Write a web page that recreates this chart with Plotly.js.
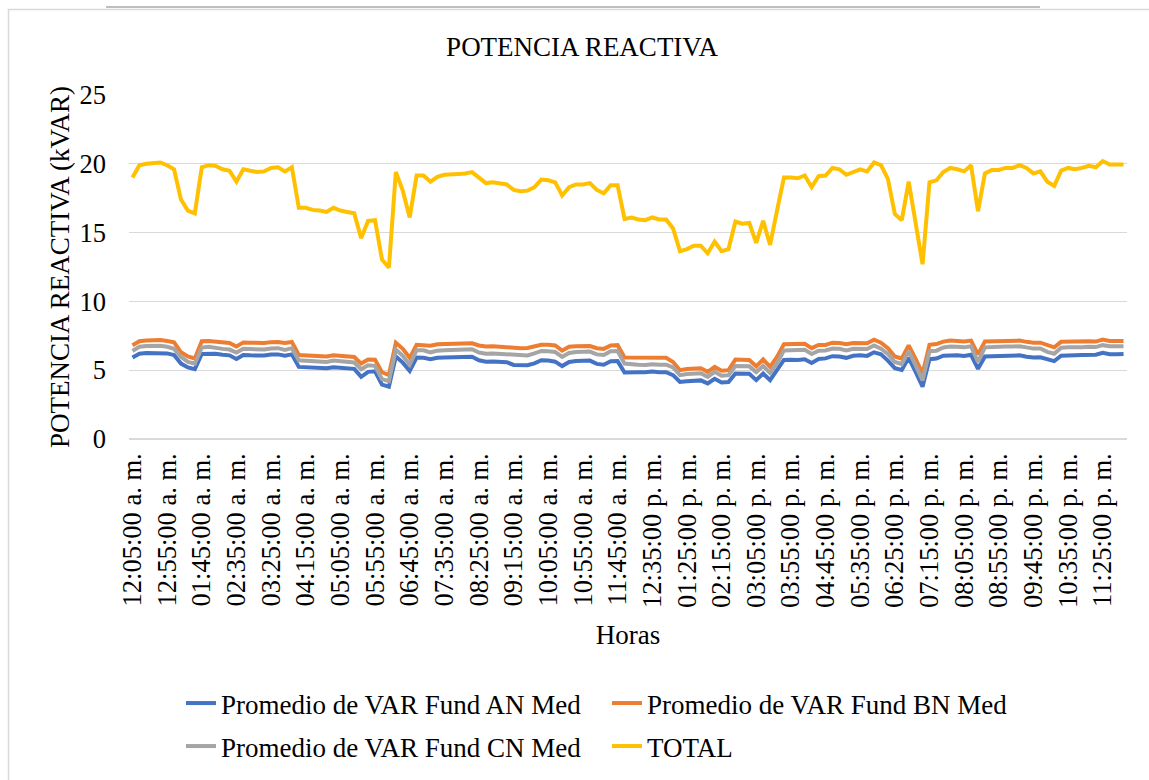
<!DOCTYPE html>
<html>
<head>
<meta charset="utf-8">
<script src="https://cdn.plot.ly/plotly-3.0.1.min.js"></script>
<style>
  html, body { margin: 0; padding: 0; background: #fff; }
  #chart { width: 1149px; height: 780px; }
</style>
</head>
<body>
<div id="chart"></div>
<script>
// ---- Categories (10-minute readings) ----
const horas = [
  "12:05:00 a. m.","12:15:00 a. m.","12:25:00 a. m.","12:35:00 a. m.","12:45:00 a. m.","12:55:00 a. m.",
  "01:05:00 a. m.","01:15:00 a. m.","01:25:00 a. m.","01:35:00 a. m.","01:45:00 a. m.","01:55:00 a. m.",
  "02:05:00 a. m.","02:15:00 a. m.","02:25:00 a. m.","02:35:00 a. m.","02:45:00 a. m.","02:55:00 a. m.",
  "03:05:00 a. m.","03:15:00 a. m.","03:25:00 a. m.","03:35:00 a. m.","03:45:00 a. m.","03:55:00 a. m.",
  "04:05:00 a. m.","04:15:00 a. m.","04:25:00 a. m.","04:35:00 a. m.","04:45:00 a. m.","04:55:00 a. m.",
  "05:05:00 a. m.","05:15:00 a. m.","05:25:00 a. m.","05:35:00 a. m.","05:45:00 a. m.","05:55:00 a. m.",
  "06:05:00 a. m.","06:15:00 a. m.","06:25:00 a. m.","06:35:00 a. m.","06:45:00 a. m.","06:55:00 a. m.",
  "07:05:00 a. m.","07:15:00 a. m.","07:25:00 a. m.","07:35:00 a. m.","07:45:00 a. m.","07:55:00 a. m.",
  "08:05:00 a. m.","08:15:00 a. m.","08:25:00 a. m.","08:35:00 a. m.","08:45:00 a. m.","08:55:00 a. m.",
  "09:05:00 a. m.","09:15:00 a. m.","09:25:00 a. m.","09:35:00 a. m.","09:45:00 a. m.","09:55:00 a. m.",
  "10:05:00 a. m.","10:15:00 a. m.","10:25:00 a. m.","10:35:00 a. m.","10:45:00 a. m.","10:55:00 a. m.",
  "11:05:00 a. m.","11:15:00 a. m.","11:25:00 a. m.","11:35:00 a. m.","11:45:00 a. m.","11:55:00 a. m.",
  "12:05:00 p. m.","12:15:00 p. m.","12:25:00 p. m.","12:35:00 p. m.","12:45:00 p. m.","12:55:00 p. m.",
  "01:05:00 p. m.","01:15:00 p. m.","01:25:00 p. m.","01:35:00 p. m.","01:45:00 p. m.","01:55:00 p. m.",
  "02:05:00 p. m.","02:15:00 p. m.","02:25:00 p. m.","02:35:00 p. m.","02:45:00 p. m.","02:55:00 p. m.",
  "03:05:00 p. m.","03:15:00 p. m.","03:25:00 p. m.","03:35:00 p. m.","03:45:00 p. m.","03:55:00 p. m.",
  "04:05:00 p. m.","04:15:00 p. m.","04:25:00 p. m.","04:35:00 p. m.","04:45:00 p. m.","04:55:00 p. m.",
  "05:05:00 p. m.","05:15:00 p. m.","05:25:00 p. m.","05:35:00 p. m.","05:45:00 p. m.","05:55:00 p. m.",
  "06:05:00 p. m.","06:15:00 p. m.","06:25:00 p. m.","06:35:00 p. m.","06:45:00 p. m.","06:55:00 p. m.",
  "07:05:00 p. m.","07:15:00 p. m.","07:25:00 p. m.","07:35:00 p. m.","07:45:00 p. m.","07:55:00 p. m.",
  "08:05:00 p. m.","08:15:00 p. m.","08:25:00 p. m.","08:35:00 p. m.","08:45:00 p. m.","08:55:00 p. m.",
  "09:05:00 p. m.","09:15:00 p. m.","09:25:00 p. m.","09:35:00 p. m.","09:45:00 p. m.","09:55:00 p. m.",
  "10:05:00 p. m.","10:15:00 p. m.","10:25:00 p. m.","10:35:00 p. m.","10:45:00 p. m.","10:55:00 p. m.",
  "11:05:00 p. m.","11:15:00 p. m.","11:25:00 p. m.","11:35:00 p. m.","11:45:00 p. m.","11:55:00 p. m."
];

// ---- Tick labels shown on the category axis ----
const etiquetas = [
  "12:05:00 a. m.","12:55:00 a. m.","01:45:00 a. m.","02:35:00 a. m.","03:25:00 a. m.","04:15:00 a. m.",
  "05:05:00 a. m.","05:55:00 a. m.","06:45:00 a. m.","07:35:00 a. m.","08:25:00 a. m.","09:15:00 a. m.",
  "10:05:00 a. m.","10:55:00 a. m.","11:45:00 a. m.","12:35:00 p. m.","01:25:00 p. m.","02:15:00 p. m.",
  "03:05:00 p. m.","03:55:00 p. m.","04:45:00 p. m.","05:35:00 p. m.","06:25:00 p. m.","07:15:00 p. m.",
  "08:05:00 p. m.","08:55:00 p. m.","09:45:00 p. m.","10:35:00 p. m.","11:25:00 p. m."
];

// ---- Series values (kVAR) ----
const varAN = [
  5.92,6.20,6.25,6.25,6.28,6.22,6.10,5.48,5.20,5.08,6.18,6.22,6.20,6.12,6.08,5.82,6.10,6.08,6.05,6.07,
  6.14,6.15,6.06,6.15,5.24,5.22,5.18,5.17,5.15,5.22,5.17,5.14,5.10,4.52,4.88,4.92,3.95,3.80,6.00,5.55,
  4.95,5.92,5.90,5.80,5.90,5.92,5.93,5.94,5.95,5.98,5.72,5.62,5.64,5.60,5.58,5.38,5.35,5.36,5.50,5.72,
  5.70,5.62,5.30,5.60,5.66,5.66,5.70,5.46,5.40,5.65,5.66,4.83,4.88,4.86,4.85,4.90,4.86,4.86,4.64,4.15,
  4.20,4.26,4.26,4.04,4.38,4.10,4.14,4.76,4.74,4.74,4.28,4.76,4.27,5.00,5.75,5.76,5.74,5.80,5.53,5.82,
  5.86,6.02,6.00,5.90,6.05,6.08,6.04,6.30,6.15,5.70,5.15,5.02,5.90,4.88,3.80,5.80,5.85,6.05,6.10,6.08,
  6.04,6.12,5.10,6.00,6.02,6.02,6.04,6.04,6.08,5.98,5.92,5.94,5.77,5.66,6.05,6.10,6.08,6.10,6.14,6.12,
  6.26,6.16,6.16,6.17
];
const varBN = [
  6.82,7.10,7.15,7.18,7.20,7.12,7.02,6.30,6.00,5.85,7.10,7.12,7.08,7.00,6.98,6.72,7.02,7.00,6.95,6.97,
  7.04,7.05,6.97,7.05,6.10,6.08,6.05,6.02,6.00,6.08,6.02,5.99,5.96,5.48,5.77,5.76,4.85,4.65,7.00,6.55,
  5.90,6.85,6.85,6.78,6.88,6.90,6.90,6.92,6.93,6.96,6.80,6.72,6.74,6.70,6.70,6.62,6.60,6.62,6.72,6.85,
  6.85,6.80,6.42,6.70,6.74,6.74,6.76,6.60,6.55,6.80,6.82,5.92,5.92,5.90,5.88,5.95,5.90,5.90,5.60,5.00,
  5.08,5.14,5.14,4.88,5.24,4.96,5.00,5.77,5.72,5.74,5.28,5.78,5.24,5.97,6.88,6.88,6.87,6.92,6.60,6.84,
  6.84,7.00,6.97,6.88,6.98,7.00,6.96,7.22,7.00,6.60,6.00,5.85,6.80,5.82,4.75,6.85,6.90,7.08,7.15,7.12,
  7.08,7.15,6.15,7.08,7.10,7.10,7.12,7.12,7.15,7.06,6.99,7.00,6.82,6.66,7.06,7.08,7.05,7.07,7.10,7.08,
  7.22,7.13,7.13,7.12
];
const varCN = [
  6.40,6.70,6.75,6.75,6.78,6.70,6.55,5.97,5.60,5.48,6.65,6.70,6.66,6.55,6.50,6.28,6.56,6.52,6.48,6.50,
  6.58,6.60,6.48,6.60,5.72,5.70,5.66,5.64,5.60,5.70,5.63,5.60,5.56,5.07,5.36,5.32,4.35,4.20,6.50,6.05,
  5.40,6.45,6.45,6.30,6.42,6.45,6.46,6.47,6.50,6.52,6.28,6.20,6.22,6.18,6.17,6.08,6.05,6.07,6.22,6.40,
  6.38,6.32,5.97,6.25,6.32,6.32,6.35,6.15,6.10,6.38,6.40,5.48,5.42,5.40,5.38,5.44,5.40,5.40,5.20,4.64,
  4.72,4.78,4.78,4.52,4.88,4.60,4.64,5.30,5.26,5.28,4.86,5.30,4.80,5.50,6.44,6.45,6.44,6.48,6.18,6.42,
  6.43,6.58,6.56,6.44,6.56,6.58,6.54,6.80,6.56,6.18,5.60,5.45,6.38,5.35,4.25,6.38,6.42,6.65,6.72,6.70,
  6.66,6.74,5.60,6.66,6.70,6.70,6.72,6.72,6.74,6.66,6.57,6.58,6.33,6.20,6.64,6.66,6.64,6.66,6.70,6.68,
  6.82,6.74,6.74,6.74
];
const total = [
  19.00,19.90,20.00,20.05,20.10,19.90,19.60,17.40,16.60,16.40,19.75,19.90,19.85,19.60,19.50,18.70,19.60,19.50,19.40,19.45,
  19.70,19.75,19.45,19.75,16.80,16.80,16.65,16.60,16.50,16.80,16.60,16.50,16.40,14.60,15.85,15.90,13.05,12.45,19.40,18.05,
  16.10,19.15,19.15,18.70,19.05,19.20,19.20,19.25,19.30,19.40,19.00,18.60,18.65,18.55,18.50,18.10,18.00,18.05,18.30,18.85,
  18.80,18.65,17.70,18.30,18.50,18.50,18.60,18.10,17.85,18.45,18.45,16.00,16.10,15.95,15.90,16.10,15.95,15.95,15.30,13.65,
  13.80,14.05,14.05,13.50,14.35,13.65,13.80,15.80,15.65,15.70,14.25,15.85,14.10,16.60,19.00,19.00,18.95,19.15,18.30,19.10,
  19.15,19.70,19.60,19.20,19.40,19.60,19.45,20.10,19.90,18.90,16.35,15.90,18.70,15.80,12.70,18.65,18.80,19.40,19.70,19.60,
  19.45,19.90,16.55,19.30,19.55,19.55,19.70,19.70,19.90,19.70,19.30,19.45,18.70,18.40,19.50,19.70,19.60,19.70,19.85,19.75,
  20.20,19.95,19.95,19.95
];

const seriesNames = [
  "Promedio de VAR Fund AN Med",
  "Promedio de VAR Fund BN Med",
  "Promedio de VAR Fund CN Med",
  "TOTAL"
];
const seriesColors = ["#4472C4", "#ED7D31", "#A5A5A5", "#FFC000"];
const seriesData = [varAN, varBN, varCN, total];
const seriesLegend = ["legend", "legend", "legend2", "legend2"];

const FONT = "Liberation Serif";

const traces = seriesData.map((ys, k) => ({
  type: "scatter",
  mode: "lines",
  x: horas,
  y: ys,
  name: seriesNames[k],
  legend: seriesLegend[k],
  line: { color: seriesColors[k], width: 4, shape: "linear" },
  hoverinfo: "x+y+name"
}));

// pixel -> paper helpers for decoration shapes
const L = 129, R = 22, T = 95, B = 341, W = 1149, H = 780;
const pw = W - L - R, ph = H - T - B;
const px = v => (v - L) / pw;
const py = v => (H - B - v) / ph;

const legendBase = {
  orientation: "h",
  xref: "paper", yref: "container",
  x: px(181),
  xanchor: "left", yanchor: "top",
  entrywidth: 381,
  entrywidthmode: "pixels",
  traceorder: "normal",
  font: { family: FONT, size: 27, color: "#000000" },
  bgcolor: "rgba(0,0,0,0)",
  borderwidth: 0
};

const layout = {
  width: W,
  height: H,
  margin: { l: L, r: R, t: T, b: B, pad: 0 },
  paper_bgcolor: "#ffffff",
  plot_bgcolor: "#ffffff",
  font: { family: FONT, color: "#000000", size: 26.5 },
  showlegend: true,
  title: {
    text: "POTENCIA REACTIVA",
    font: { family: FONT, size: 27, color: "#000000" },
    xref: "container", yref: "container",
    x: 582 / W, y: 1 - 47 / H,
    xanchor: "center", yanchor: "middle"
  },
  xaxis: {
    type: "category",
    categoryorder: "array",
    categoryarray: horas,
    range: [-0.5, horas.length - 0.5],
    tickmode: "array",
    tickvals: etiquetas,
    ticktext: etiquetas,
    tickangle: -90,
    tickfont: { family: FONT, size: 26.5, color: "#000000" },
    ticks: "",
    ticklabelstandoff: 8,
    showgrid: false,
    zeroline: false,
    showline: false,
    automargin: false,
    fixedrange: true,
    title: { text: "Horas", font: { family: FONT, size: 27, color: "#000000" }, standoff: 18 }
  },
  yaxis: {
    range: [0, 25],
    tickmode: "linear",
    tick0: 0,
    dtick: 5,
    tickfont: { family: FONT, size: 26.5, color: "#000000" },
    ticks: "",
    ticklabelstandoff: 22,
    showgrid: true,
    gridcolor: "#d9d9d9",
    gridwidth: 1.3,
    zeroline: true,
    zerolinecolor: "#d9d9d9",
    zerolinewidth: 1.3,
    showline: false,
    automargin: false,
    fixedrange: true,
    title: { text: "POTENCIA REACTIVA (kVAR)", font: { family: FONT, size: 27, color: "#000000" }, standoff: 2 }
  },
  legend: Object.assign({}, legendBase, { y: 1 - 679 / H }),
  legend2: Object.assign({}, legendBase, { y: 1 - 722 / H }),
  shapes: [
    { type: "path", xref: "paper", yref: "paper", layer: "below",
      path: `M ${px(8.5)} ${py(790)} L ${px(8.5)} ${py(9.5)} L ${px(1160)} ${py(9.5)}`,
      line: { color: "#d9d9d9", width: 1.5 } },
    { type: "line", xref: "paper", yref: "paper", layer: "below",
      x0: px(106), x1: px(1040), y0: py(7), y1: py(7),
      line: { color: "#808080", width: 1.2 } }
  ]
};

Plotly.newPlot("chart", traces, layout, { displayModeBar: false, staticPlot: true });
</script>
</body>
</html>
